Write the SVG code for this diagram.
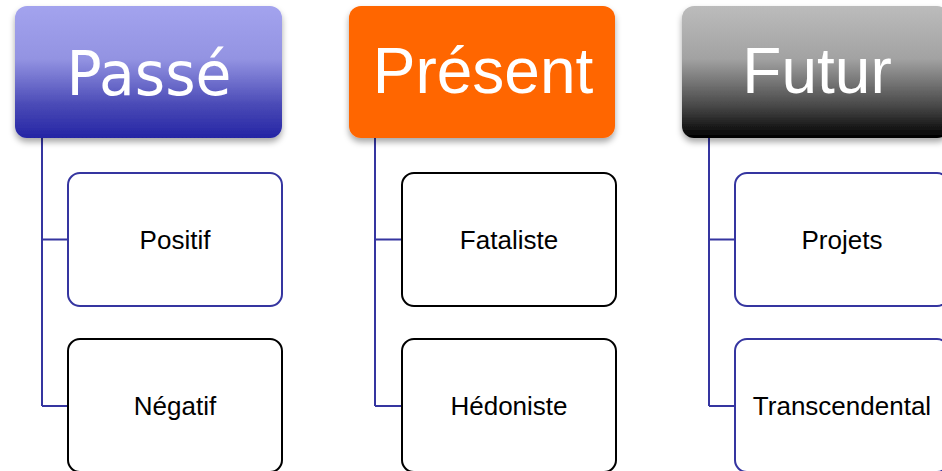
<svg xmlns="http://www.w3.org/2000/svg" width="942" height="471" viewBox="0 0 942 471">
<defs>
<linearGradient id="gPasse" x1="0" y1="0" x2="0" y2="1">
<stop offset="0" stop-color="#a3a3ee"/>
<stop offset="0.4" stop-color="#9393e2"/>
<stop offset="0.75" stop-color="#4a4ab6"/>
<stop offset="1" stop-color="#2424a4"/>
</linearGradient>
<linearGradient id="gFutur" x1="0" y1="0" x2="0" y2="1">
<stop offset="0" stop-color="#bcbcbc"/>
<stop offset="0.4" stop-color="#a2a2a2"/>
<stop offset="0.75" stop-color="#4a4a4a"/>
<stop offset="1" stop-color="#000000"/>
</linearGradient>
<filter id="sh" x="-10%" y="-10%" width="120%" height="130%">
<feDropShadow dx="0" dy="4" stdDeviation="3" flood-color="#000" flood-opacity="0.35"/>
</filter>
</defs>
<style>
.hdr{filter:url(#sh)}
.htxt{fill:#fff;text-anchor:middle;font-size:64px;font-family:"Liberation Sans",Arial,sans-serif}
.comic{font-family:"Comic Sans MS","DejaVu Sans",sans-serif;font-size:60px}
.box{fill:#fff;stroke-width:2}
.blue{stroke:#3535a0}
.black{stroke:#000}
.ctxt{fill:#000;text-anchor:middle;font-size:26px;font-family:"Liberation Sans",Arial,sans-serif}
.con{fill:none;stroke:#3535a0;stroke-width:2}
</style>
<g id="connectors">
<path class="con" d="M42 138 V406 M42 239.5 H68 M42 406 H68"/>
<path class="con" d="M375 138 V406 M375 239.5 H402 M375 406 H402"/>
<path class="con" d="M709 138 V406 M709 239.5 H735 M709 406 H735"/>
</g>
<g id="passe">
<rect class="hdr" x="15" y="6" width="267" height="132" rx="12" fill="url(#gPasse)"/>
<text class="htxt comic" x="149" y="95" textLength="165" lengthAdjust="spacingAndGlyphs">Passé</text>
</g>
<g id="present">
<rect class="hdr" x="349" y="6" width="266" height="132" rx="12" fill="#ff6600"/>
<text class="htxt" x="483" y="93">Présent</text>
</g>
<g id="futur">
<rect class="hdr" x="682" y="6" width="267" height="132" rx="12" fill="url(#gFutur)"/>
<text class="htxt" x="817" y="93">Futur</text>
</g>
<g id="positif">
<rect class="box blue" x="68" y="173" width="214" height="133" rx="12"/>
<text class="ctxt" x="175" y="248.5">Positif</text>
</g>
<g id="negatif">
<rect class="box black" x="68" y="339" width="214" height="133" rx="12"/>
<text class="ctxt" x="175" y="415">Négatif</text>
</g>
<g id="fataliste">
<rect class="box black" x="402" y="173" width="214" height="133" rx="12"/>
<text class="ctxt" x="509" y="248.5">Fataliste</text>
</g>
<g id="hedoniste">
<rect class="box black" x="402" y="339" width="214" height="133" rx="12"/>
<text class="ctxt" x="509" y="415">Hédoniste</text>
</g>
<g id="projets">
<rect class="box blue" x="735" y="173" width="214" height="133" rx="12"/>
<text class="ctxt" x="842" y="248.5">Projets</text>
</g>
<g id="transcendental">
<rect class="box blue" x="735" y="339" width="214" height="133" rx="12"/>
<text class="ctxt" x="842" y="415">Transcendental</text>
</g>
</svg>
